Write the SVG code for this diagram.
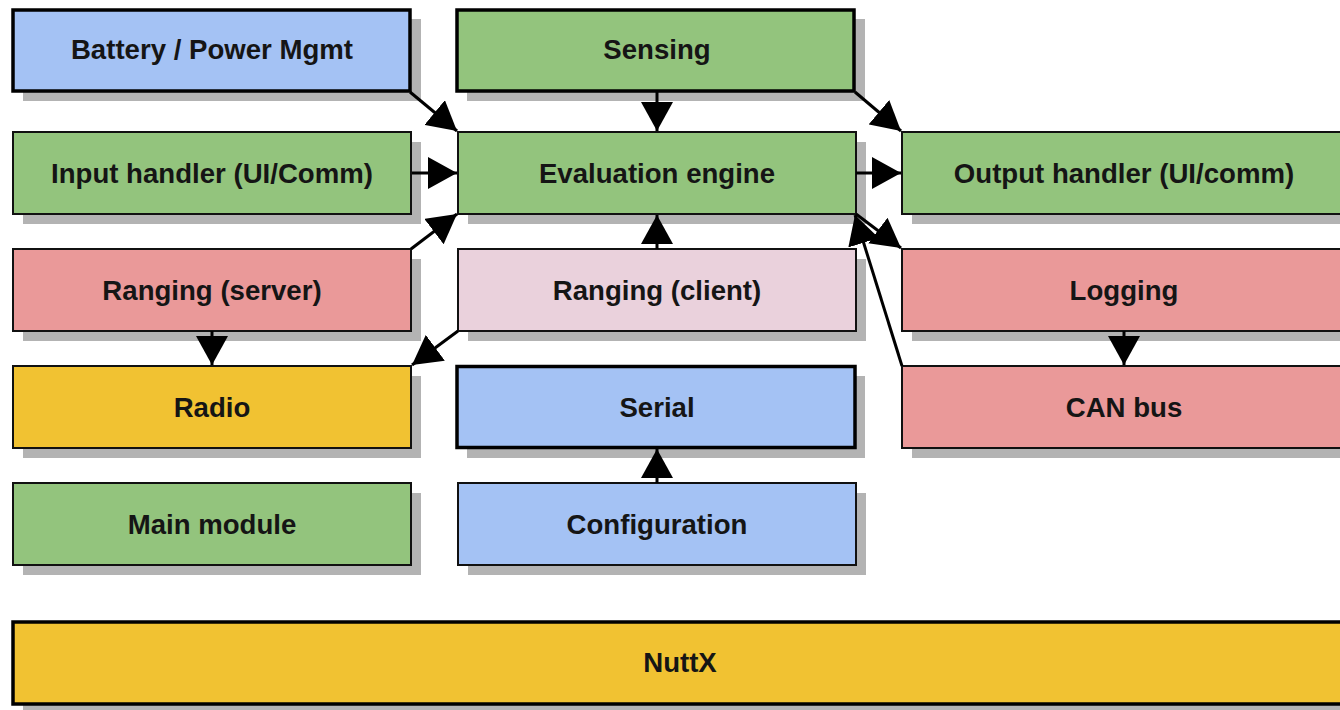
<svg xmlns="http://www.w3.org/2000/svg" width="1340" height="710" viewBox="0 0 1340 710">
<defs>
<style>
.sh{fill:#b3b3b3}
.bx{stroke:#111;stroke-width:2}
.thick{stroke:#000;stroke-width:3.5}
.blue{fill:#a4c2f4}
.green{fill:#93c47d}
.red{fill:#ea9999}
.pink{fill:#ead1dc}
.yellow{fill:#f1c232}
text{font-family:"Liberation Sans",Arial,sans-serif;font-weight:bold;font-size:27.6px;fill:#151515;text-anchor:middle}
.cn line{stroke:#000;stroke-width:3;marker-end:url(#ah)}
</style>
<marker id="ah" markerUnits="userSpaceOnUse" markerWidth="29" markerHeight="32" refX="29" refY="16" orient="auto" viewBox="0 0 29 32">
<path d="M0,0 L29,16 L0,32 Z" fill="#000"/>
</marker>
</defs>
<rect width="1340" height="710" fill="#fff"/>

<g id="battery">
<rect class="sh" x="23" y="19" width="398" height="82"/>
<rect class="blue thick" x="13" y="10" width="397" height="81"/>
<text x="212" y="59">Battery / Power Mgmt</text>
</g>
<g id="sensing">
<rect class="sh" x="467" y="19" width="398" height="82"/>
<rect class="green thick" x="457" y="10" width="397" height="81"/>
<text x="657" y="59">Sensing</text>
</g>
<g id="input">
<rect class="sh" x="23" y="142" width="398" height="82"/>
<rect class="green bx" x="13" y="132" width="398" height="82"/>
<text x="212" y="183">Input handler (UI/Comm)</text>
</g>
<g id="eval">
<rect class="sh" x="468" y="142" width="398" height="82"/>
<rect class="green bx" x="458" y="132" width="398" height="82"/>
<text x="657" y="183">Evaluation engine</text>
</g>
<g id="output">
<rect class="sh" x="912" y="142" width="444" height="82"/>
<rect class="green bx" x="902" y="132" width="444" height="82"/>
<text x="1124" y="183">Output handler (UI/comm)</text>
</g>
<g id="ranging-server">
<rect class="sh" x="23" y="259" width="398" height="82"/>
<rect class="red bx" x="13" y="249" width="398" height="82"/>
<text x="212" y="300">Ranging (server)</text>
</g>
<g id="ranging-client">
<rect class="sh" x="468" y="259" width="398" height="82"/>
<rect class="pink bx" x="458" y="249" width="398" height="82"/>
<text x="657" y="300">Ranging (client)</text>
</g>
<g id="logging">
<rect class="sh" x="912" y="259" width="444" height="82"/>
<rect class="red bx" x="902" y="249" width="444" height="82"/>
<text x="1124" y="300">Logging</text>
</g>
<g id="radio">
<rect class="sh" x="23" y="376" width="398" height="82"/>
<rect class="yellow bx" x="13" y="366" width="398" height="82"/>
<text x="212" y="417">Radio</text>
</g>
<g id="serial">
<rect class="sh" x="467" y="376" width="398" height="82"/>
<rect class="blue thick" x="457" y="366.5" width="398" height="81"/>
<text x="657" y="417">Serial</text>
</g>
<g id="canbus">
<rect class="sh" x="912" y="376" width="444" height="82"/>
<rect class="red bx" x="902" y="366" width="444" height="82"/>
<text x="1124" y="417">CAN bus</text>
</g>
<g id="main">
<rect class="sh" x="23" y="493" width="398" height="82"/>
<rect class="green bx" x="13" y="483" width="398" height="82"/>
<text x="212" y="534">Main module</text>
</g>
<g id="config">
<rect class="sh" x="468" y="493" width="398" height="82"/>
<rect class="blue bx" x="458" y="483" width="398" height="82"/>
<text x="657" y="534">Configuration</text>
</g>
<g id="nuttx">
<rect class="sh" x="23" y="632" width="1330" height="82"/>
<rect class="yellow thick" x="13" y="622" width="1334" height="82"/>
<text x="680" y="672">NuttX</text>
</g>

<g id="connectors" class="cn">
<line x1="410" y1="92" x2="457" y2="131"/>
<line x1="657" y1="92" x2="657" y2="131"/>
<line x1="855" y1="92" x2="901" y2="131"/>
<line x1="412" y1="173" x2="457" y2="173"/>
<line x1="856" y1="173" x2="901" y2="173"/>
<line x1="411" y1="249" x2="457" y2="214"/>
<line x1="657" y1="249" x2="657" y2="215"/>
<line x1="856" y1="214" x2="901" y2="248"/>
<line x1="902" y1="366" x2="855" y2="215"/>
<line x1="212" y1="331" x2="212" y2="365"/>
<line x1="458" y1="331" x2="412" y2="365"/>
<line x1="1124" y1="331" x2="1124" y2="365"/>
<line x1="657" y1="483" x2="657" y2="449"/>
</g>
</svg>
